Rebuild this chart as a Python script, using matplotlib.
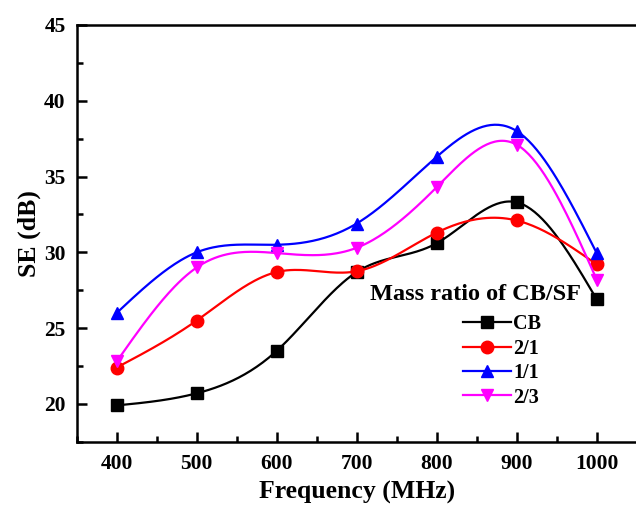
import numpy as np
import matplotlib.pyplot as plt
from matplotlib.ticker import MultipleLocator

plt.rcParams['font.family'] = ['Liberation Serif', 'DejaVu Serif']
plt.rcParams['font.weight'] = 'bold'

freq = [400, 500, 600, 700, 800, 900, 1000]
se_cb = [19.9, 20.7, 23.5, 28.7, 30.6, 33.3, 26.9]
se_21 = [22.4, 25.5, 28.7, 28.75, 31.3, 32.1, 29.2]
se_11 = [26.0, 30.0, 30.5, 31.9, 36.3, 38.0, 29.95]
se_23 = [22.8, 29.0, 29.95, 30.3, 34.3, 37.1, 28.2]

labels = ['CB', '2/1', '1/1', '2/3']
colors = ['black', '#ff0000', '#0000ff', '#ff00ff']
markers = ['s', 'o', '^', 'v']


def natural_spline(x, y, per_seg=40):
    # natural cubic spline through the knots, returns dense curve
    x = np.asarray(x, float)
    y = np.asarray(y, float)
    n = len(x)
    h = np.diff(x)
    A = np.zeros((n, n))
    b = np.zeros(n)
    A[0, 0] = A[-1, -1] = 1
    for i in range(1, n - 1):
        A[i, i - 1] = h[i - 1]
        A[i, i] = 2 * (h[i - 1] + h[i])
        A[i, i + 1] = h[i]
        b[i] = 6 * ((y[i + 1] - y[i]) / h[i] - (y[i] - y[i - 1]) / h[i - 1])
    M = np.linalg.solve(A, b)
    xs, ys = [], []
    for i in range(n - 1):
        t = np.linspace(x[i], x[i + 1], per_seg, endpoint=False)
        a = x[i + 1] - t
        c = t - x[i]
        s = (M[i] * a ** 3 + M[i + 1] * c ** 3) / (6 * h[i]) \
            + (y[i] / h[i] - M[i] * h[i] / 6) * a \
            + (y[i + 1] / h[i] - M[i + 1] * h[i] / 6) * c
        xs.append(t)
        ys.append(s)
    xs.append([x[-1]])
    ys.append([y[-1]])
    return np.concatenate(xs), np.concatenate(ys), list(range(0, per_seg * (n - 1) + 1, per_seg))


fig = plt.figure(figsize=(6.36, 5.09), dpi=100)
ax = fig.add_axes([0.1206, 0.132, 0.8805, 0.819])

for ys, lab, col, mk in zip([se_cb, se_21, se_11, se_23], labels, colors, markers):
    sx, sy, idx = natural_spline(freq, ys)
    ax.plot(sx, sy, color=col, lw=1.6, marker=mk, markevery=idx,
            markersize=9, label=lab)

ax.set_xlim(350, 1050)
ax.set_ylim(17.5, 45)
ax.set_xticks(freq)
ax.xaxis.set_minor_locator(MultipleLocator(50))
ax.set_yticks([20, 25, 30, 35, 40, 45])
ax.yaxis.set_minor_locator(MultipleLocator(2.5))
ax.tick_params(which='both', direction='in', width=1.8, labelsize=15.5)
ax.tick_params(which='major', length=7)
ax.tick_params(which='minor', length=4)
ax.tick_params(axis='x', pad=9)
ax.tick_params(axis='y', pad=8)
for sp in ax.spines.values():
    sp.set_linewidth(1.8)

ax.set_xlabel('Frequency (MHz)', fontsize=18.5, fontweight='bold', labelpad=5)
ax.set_ylabel('SE (dB)', fontsize=18.5, fontweight='bold', labelpad=2)

ax.text(849, 27.2, 'Mass ratio of CB/SF', fontsize=17.5, fontweight='bold',
        ha='center', va='center')
ax.legend(loc='upper left', bbox_to_anchor=(0.69, 0.306), frameon=False,
          prop={'size': 14.5, 'weight': 'bold'}, handlelength=2.4,
          handletextpad=0.1, labelspacing=0.22, borderpad=0, borderaxespad=0)

fig.savefig('out.png', dpi=100)
